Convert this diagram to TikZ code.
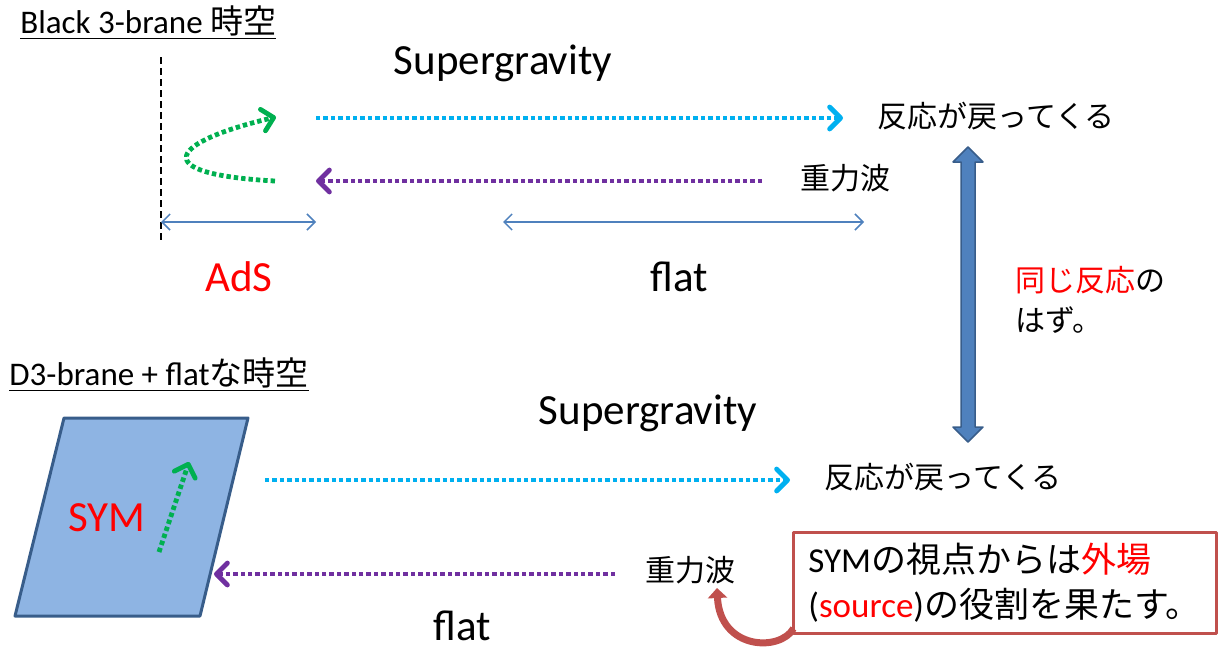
\documentclass[tikz,border=0pt]{standalone}
\usepackage{fontspec}
\setmainfont{Carlito}
\newfontfamily\jpfont{Noto Sans CJK JP}
\usetikzlibrary{arrows.meta}

\definecolor{wgreen}{HTML}{00B050}
\definecolor{wcyan}{HTML}{00B0F0}
\definecolor{wpurple}{HTML}{7030A0}
\definecolor{lblue}{HTML}{4F81BD}
\definecolor{dblue}{HTML}{385D8A}
\definecolor{pfill}{HTML}{8EB4E3}
\definecolor{cred}{HTML}{C0504D}

\begin{document}
\begin{tikzpicture}[x=0.5pt,y=-0.5pt,line join=round,
  txt/.style={inner sep=0pt},
  big/.style={txt,anchor=base,font=\fontsize{21.5}{26}\selectfont},
  mid/.style={txt,font=\fontsize{15}{18}\selectfont\jpfont},
  hdr/.style={txt,anchor=base west,font=\fontsize{16.5}{19}\selectfont},
  dotarr/.style={line width=2.4pt,dash pattern=on 2.2pt off 1.5pt,
    -{Straight Barb[round,length=5.5pt,width=11pt]}},
  span/.style={lblue,line width=0.75pt,
    {Straight Barb[length=4pt,width=8pt]}-{Straight Barb[length=4pt,width=8pt]}},
  callout/.style={draw=cred,line width=1.5pt,fill=white,inner sep=0pt,
    minimum width=211.5pt,minimum height=50.5pt,align=left,
    font=\fontsize{17.5}{22.5}\selectfont},
]
\useasboundingbox (0,0) rectangle (1219,648);

% top: black 3-brane
\coordinate (dtop) at (161,57);
\coordinate (dbot) at (161,243);
\coordinate (gs) at (275,181);
\coordinate (ge) at (276,117);
\coordinate (cs1) at (316,118);
\coordinate (ce1) at (843,118);
\coordinate (ps1) at (762,181);
\coordinate (pe1) at (316,181);
\coordinate (ad1) at (161,222);
\coordinate (ad2) at (316,222);
\coordinate (fl1) at (503,222);
\coordinate (fl2) at (864,222);

% bottom: D3-brane
\coordinate (p1) at (64,418);
\coordinate (p2) at (248,418);
\coordinate (p3) at (200,616);
\coordinate (p4) at (15,616);
\coordinate (sa) at (159,552);
\coordinate (sb) at (189,462);
\coordinate (cs2) at (265,480);
\coordinate (ce2) at (790,480);
\coordinate (ps2) at (615,574);
\coordinate (pe2) at (214,574);
\coordinate (chead) at (717,588);

% brane
\draw[dblue,fill=pfill,line width=1.5pt] (p1)--(p2)--(p3)--(p4)--cycle;

% edges
\draw[black,line width=0.75pt,dash pattern=on 3.5pt off 2pt] (dtop)--(dbot);
\draw[dotarr,wgreen] (gs) .. controls (145,174) and (170,142) .. (ge);
\draw[dotarr,wcyan] (cs1)--(ce1);
\draw[dotarr,wpurple] (ps1)--(pe1);
\draw[span] (ad1)--(ad2);
\draw[span] (fl1)--(fl2);

\draw[dotarr,wgreen] (sa)--(sb);
\draw[dotarr,wcyan] (cs2)--(ce2);
\draw[dotarr,wpurple] (ps2)--(pe2);

% same response arrow
\fill[lblue,draw=dblue,line width=0.75pt]
  (968,147)--(983,162)--(975,162)--(975,427)--(983,427)--(968,442)
  --(953,427)--(961,427)--(961,162)--(953,162)--cycle;

% labels
\node[hdr] (hdr1) at (20,33) {\underline{Black 3-brane {\jpfont 時空}}};
\node[hdr] (hdr2) at (9,385) {\underline{D3-brane + flat{\jpfont な時空}}};

\node[big] (sg1) at (503,74) {Supergravity};
\node[big,text=red] (ads) at (239,291) {AdS};
\node[big] (flat1) at (679,291) {flat};
\node[mid] (resp1) at (996,116) {反応が戻ってくる};
\node[mid] (wave1) at (845,178) {重力波};
\node[mid,anchor=west] (same1) at (1015,280) {\textcolor{red}{同じ反応}の};
\node[mid,anchor=west] (same2) at (1015,320) {はず。};

\node[big] (sg2) at (648,424) {Supergravity};
\node[big,text=red] (sym) at (107,531) {SYM};
\node[mid] (resp2) at (943,477) {反応が戻ってくる};
\node[mid] (wave2) at (690,570) {重力波};
\node[big] (flat2) at (462,640) {flat};

\node[callout] (cbox) at (1004.5,582.5)
  {SYM{\jpfont の視点からは}\textcolor{red}{\jpfont 外場}\\
   (\textcolor{red}{source}){\jpfont の役割を果たす。}};
\draw[cred,line width=3.5pt,-{Triangle[length=5pt,width=9.5pt]}]
  ([xshift=1pt,yshift=3pt]cbox.south west) .. controls (780,652) and (720,650) .. (chead);

\end{tikzpicture}
\end{document}
